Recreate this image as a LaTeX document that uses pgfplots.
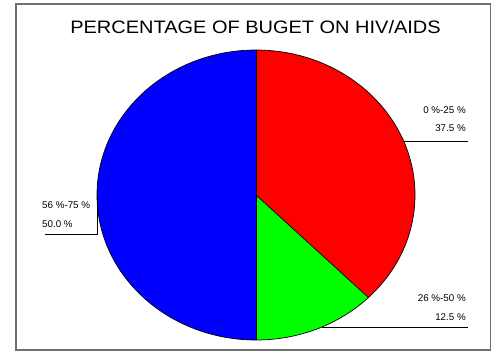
\documentclass[border=0pt]{standalone}
\usepackage{graphicx}
\usepackage{pgfplots}
\pgfplotsset{compat=1.18}
\usepackage{fontspec}
\setmainfont{Liberation Sans}
\definecolor{framegray}{HTML}{707070}
\begin{document}
\begin{tikzpicture}
\begin{axis}[x=1bp,y=1bp,xmin=0,xmax=492,ymin=0,ymax=356,hide axis,scale only axis,clip=false]
\fill[white] (axis cs:0,0) rectangle (axis cs:492,356);
\draw[framegray, line width=1.6bp] (axis cs:15.8,6) rectangle (axis cs:490.5,352);
\node[font=\fontsize{18bp}{20bp}\selectfont] at (axis cs:255.5,329) {\scalebox{1.11}[1]{PERCENTAGE OF BUGET ON HIV/AIDS}};
% slices: 37.5, 12.5, 50.0 percent
\def\cx{256}\def\cy{161}
\def\vA{37.5}\def\vB{12.5}\def\vC{50.0}
\pgfmathsetmacro{\aA}{90-3.6*\vA}
\pgfmathsetmacro{\aB}{\aA-3.6*\vB}
\pgfmathsetmacro{\aC}{\aB-3.6*\vC}
\fill[red] (axis cs:\cx,\cy) -- (axis cs:\cx,306) arc[start angle=90,end angle=\aA,x radius=159bp,y radius=145bp] -- cycle;
\fill[green] (axis cs:\cx,\cy) -- ++(\aA:159bp and 145bp) arc[start angle=\aA,end angle=\aB,x radius=159bp,y radius=145bp] -- cycle;
\fill[blue] (axis cs:\cx,\cy) -- ++(\aB:159bp and 145bp) arc[start angle=\aB,end angle=\aC,x radius=159bp,y radius=145bp] -- cycle;
\draw[black, line width=0.7bp] (axis cs:\cx,\cy) ellipse[x radius=159bp,y radius=145bp];
\draw[black, line width=0.7bp] (axis cs:\cx,306) -- (axis cs:\cx,16);
\draw[black, line width=0.7bp] (axis cs:\cx,\cy) -- ++(\aA:159bp and 145bp);
% leader lines
\draw[black, line width=0.8bp] (axis cs:403.6,215) -- (axis cs:468,215);
\draw[black, line width=0.8bp] (axis cs:322,29) -- (axis cs:468,29);
\draw[black, line width=0.8bp] (axis cs:97.5,161) -- (axis cs:97.5,122) -- (axis cs:45,122);
% labels
\begin{scope}[every node/.style={font=\fontsize{9.8bp}{11bp}\selectfont, inner sep=0pt}]
\node[anchor=base east] at (axis cs:466,243) {0 \%-25 \%};
\node[anchor=base east] at (axis cs:466,224.5) {37.5 \%};
\node[anchor=base east] at (axis cs:466,54.5) {26 \%-50 \%};
\node[anchor=base east] at (axis cs:466,35.5) {12.5 \%};
\node[anchor=base west] at (axis cs:42,147.5) {56 \%-75 \%};
\node[anchor=base west] at (axis cs:42,128.5) {50.0 \%};
\end{scope}
\end{axis}
\end{tikzpicture}
\end{document}
